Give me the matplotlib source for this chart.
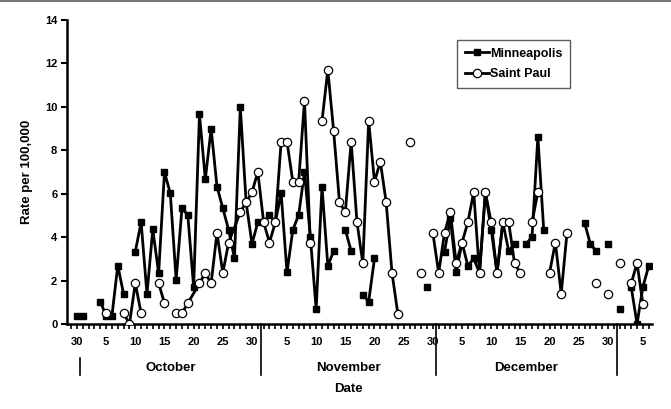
import matplotlib
matplotlib.use("Agg")
import matplotlib.pyplot as plt
import matplotlib.transforms as mtransforms
import numpy as np

plt.rcParams["font.family"] = ["Liberation Sans", "DejaVu Sans"]
plt.rcParams["font.weight"] = "bold"

# day 0 = Sep 30; None marks a break in the line
mpls_days = [0, 1, None, 4, 5, 6, 7, 8, None,
             10, 11, 12, 13, 14, 15, 16, 17, 18, 19, 20, 21, 22, 23, 24, 25, 26, 27, 28,
             29, 30, 31, 32, 33, 34, 35, 36, 37, 38, 39, 40, 41, 42, 43, 44, None,
             46, 47, None, 49, 50, 51, None, 60, None,
             63, 64, 65, 66, 67, 68, 69, 70, 71, 72, 73, 74, 75, None, 77, 78, 79, 80, None,
             87, 88, 89, None, 91, None, 93, None, 95, 96, 97, 98]
mpls_vals = [0.35, 0.35, None, 1.03, 0.38, 0.38, 2.69, 1.37, None,
             3.33, 4.69, 1.37, 4.36, 2.33, 6.99, 6.02, 2.03, 5.33, 5.02, 1.70, 9.66, 6.67, 8.99, 6.33, 5.33, 4.33, 3.03, 9.98,
             5.6, 3.69, 4.68, 4.68, 5.02, 4.68, 6.02, 2.37, 4.33, 5.02, 7.0, 4.02, 0.68, 6.33, 2.67, 3.36, None,
             4.33, 3.36, None, 1.34, 1.03, 3.02, None, 1.69, None,
             3.33, 4.87, 2.37, 3.75, 2.67, 3.02, 2.35, 6.07, 4.35, 2.35, 4.68, 3.36, 3.68, None, 3.68, 4.02, 8.62, 4.35, None,
             4.67, 3.68, 3.36, None, 3.68, None, 0.68, None, 1.70, 0.0, 1.70, 2.67]

stpaul_days = [5, None, 8, 9, 10, 11, None, 14, 15, None,
               17, 18, 19, 21, 22, 23, 24, 25, 26, 28, 29, 30, 31, 32, 33, 34, 35, 36, 37, 38, 39, 40, None,
               42, 43, 44, 45, 46, 47, 48, 49, 50, 51, 52, 53, 54, 55, None, 57, None, 59, None,
               61, 62, 63, 64, 65, 66, 67, 68, 69, 70, 71, 72, 73, 74, 75, 76, None,
               78, 79, None, 81, 82, 83, 84, None, 89, None, 91, None, 93, None, 95, 96, 97]
stpaul_vals = [0.49, None, 0.49, 0.0, 1.88, 0.49, None, 1.88, 0.95, None,
               0.49, 0.49, 0.95, 1.87, 2.35, 1.87, 4.2, 2.35, 3.75, 5.15, 5.6, 6.07, 7.0, 4.68, 3.75, 4.68, 8.4, 8.4, 6.55, 6.55, 10.28, 3.75, None,
               9.35, 11.7, 8.88, 5.6, 5.15, 8.4, 4.68, 2.8, 9.35, 6.55, 7.48, 5.6, 2.35, 0.47, None, 8.4, None, 2.35, None,
               4.2, 2.35, 4.2, 5.15, 2.8, 3.75, 4.68, 6.07, 2.35, 6.07, 4.68, 2.35, 4.68, 4.68, 2.8, 2.35, None,
               4.68, 6.07, None, 2.35, 3.75, 1.4, 4.2, None, 1.87, None, 1.4, None, 2.8, None, 1.87, 2.8, 0.93]

tick_days = [0, 5, 10, 15, 20, 25, 30, 36, 41, 46, 51, 56, 61, 66, 71, 76, 81, 86, 91, 97]
tick_labels = ["30", "5", "10", "15", "20", "25", "30", "5", "10", "15", "20", "25", "30",
               "5", "10", "15", "20", "25", "30", "5"]
months = ["October", "November", "December"]
month_edges = [0.5, 31.5, 61.5, 92.5]


def arr(a):
    return np.array([np.nan if v is None else v for v in a], dtype=float)


fig = plt.figure(figsize=(6.71, 4.09), dpi=100)
ax = fig.add_axes([0.0999, 0.208, 0.8721, 0.743])

ax.plot(arr(mpls_days), arr(mpls_vals), color="black", lw=2.0, marker="s", ms=5,
        mfc="black", mec="black", label="Minneapolis", zorder=3)
ax.plot(arr(stpaul_days), arr(stpaul_vals), color="black", lw=2.0, marker="o", ms=6,
        mfc="white", mec="black", mew=0.9, label="Saint Paul", zorder=4)

ax.set_xlim(-1.7, 98.6)
ax.set_ylim(0, 14)
ax.set_yticks(range(0, 15, 2))
ax.set_xticks(tick_days)
ax.set_xticklabels(tick_labels)
ax.set_xticks(np.arange(-1, 99), minor=True)
ax.tick_params(axis="x", which="both", direction="out", length=3.5, width=1.2, labelsize=8, pad=6)
ax.tick_params(axis="y", direction="out", length=4, width=1.5, labelsize=8, pad=3)
for lab in ax.get_xticklabels() + ax.get_yticklabels():
    lab.set_fontweight("bold")

for s in ["top", "right"]:
    ax.spines[s].set_visible(False)
for s in ["left", "bottom"]:
    ax.spines[s].set_linewidth(1.8)

trans = mtransforms.blended_transform_factory(ax.transData, ax.transAxes)
for i, e in enumerate(month_edges):
    top = -0.112 if i == 0 else 0.0
    ax.plot([e, e], [top, -0.168], color="black", lw=1.2, transform=trans, clip_on=False)
for i, m in enumerate(months):
    mid = (month_edges[i] + month_edges[i + 1]) / 2
    ax.text(mid, -0.145, m, transform=trans, ha="center", va="center",
            fontsize=9.5, fontweight="bold")

fig.text(0.52, 0.049, "Date", ha="center", va="center", fontsize=9.5, fontweight="bold")
fig.text(0.040, 0.579, "Rate per 100,000", ha="center", va="center", rotation=90,
         fontsize=9.5, fontweight="bold")

leg = ax.legend(loc="upper left", bbox_to_anchor=(0.667, 0.934), fontsize=9,
                frameon=True, fancybox=False, handlelength=1.9, handletextpad=0.1,
                borderpad=0.6, labelspacing=0.7, borderaxespad=0)
leg.get_frame().set_edgecolor("#333333")
leg.get_frame().set_linewidth(1.0)
for t in leg.get_texts():
    t.set_fontweight("bold")

fig.add_artist(plt.Line2D([0, 1], [0.998, 0.998], color="#777777", lw=1.5))

fig.savefig("out.png", dpi=100)
